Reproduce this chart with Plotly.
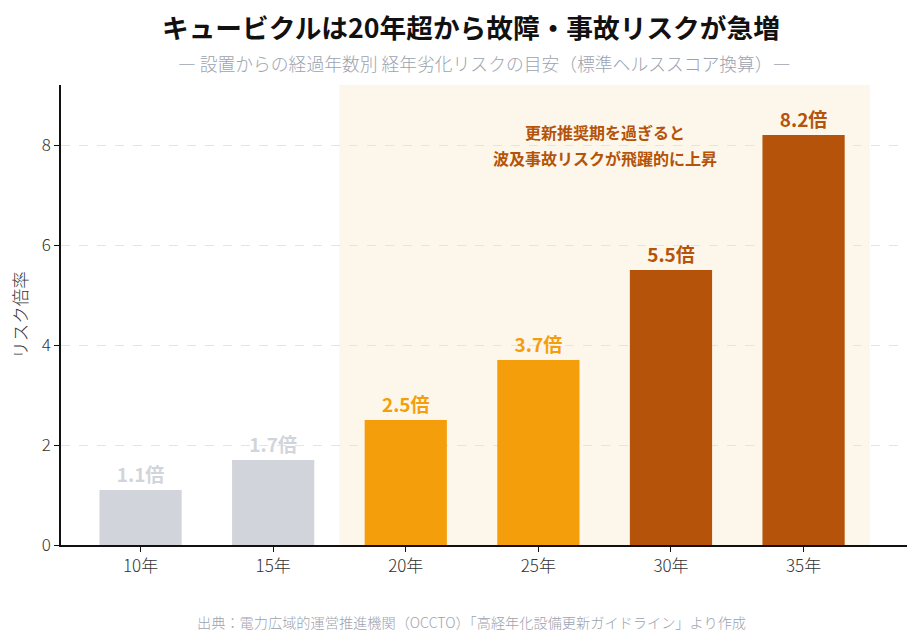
import plotly.graph_objects as go

categories = ["10年", "15年", "20年", "25年", "30年", "35年"]
values = [1.1, 1.7, 2.5, 3.7, 5.5, 8.2]
labels = ["1.1倍", "1.7倍", "2.5倍", "3.7倍", "5.5倍", "8.2倍"]
colors = ["#d1d5db", "#d1d5db", "#f59e0b", "#f59e0b", "#b45309", "#b45309"]
note_lines = ["更新推奨期を過ぎると", "波及事故リスクが飛躍的に上昇"]

FONT = "Noto Sans CJK JP"

fig = go.Figure()
fig.add_trace(go.Bar(
    x=list(range(len(categories))), y=values,
    marker=dict(color=colors, line=dict(width=0)),
    width=0.62,
    text=["<b>" + t + "</b>" for t in labels], textposition="outside",
    textfont=dict(color=colors, size=19, family=FONT),
    cliponaxis=False,
    hoverinfo="skip",
))

fig.add_shape(type="rect", xref="x", yref="paper", x0=1.5, x1=5.5, y0=0, y1=1,
              fillcolor="#fdf6ea", line=dict(width=0), layer="below")

for yv, line in zip([8.26, 7.74], note_lines):
    fig.add_annotation(x=3.5, y=yv, xref="x", yref="y",
                       text="<b>" + line + "</b>",
                       showarrow=False, font=dict(color="#b45309", size=16, family=FONT),
                       align="center")

fig.add_annotation(x=0.485, y=1, xref="paper", yref="paper", yshift=80,
                   text="<b>キュービクルは20年超から故障・事故リスクが急増</b>",
                   showarrow=False, font=dict(color="#111111", size=26.7, family=FONT))
fig.add_annotation(x=0.5, y=1, xref="paper", yref="paper", yshift=37,
                   text="― 設置からの経過年数別 経年劣化リスクの目安（標準ヘルススコア換算）―",
                   showarrow=False, font=dict(color="#9ca3af", size=17.8, family=FONT, weight=300))
fig.add_annotation(x=0.485, y=0, xref="paper", yref="paper", yshift=-89,
                   text="出典：電力広域的運営推進機関（OCCTO）「高経年化設備更新ガイドライン」より作成",
                   showarrow=False, font=dict(color="#9ca3af", size=14.2, family=FONT, weight=300))

fig.update_layout(
    width=920, height=643,
    margin=dict(l=61, r=13, t=85, b=98),
    paper_bgcolor="white", plot_bgcolor="white",
    font=dict(family=FONT, color="#333333", size=17),
    showlegend=False,
)
fig.update_xaxes(
    tickmode="array", tickvals=list(range(len(categories))), ticktext=categories,
    range=[-0.6, 5.78], showline=True, linecolor="#111111", linewidth=1.5,
    ticks="outside", ticklen=5, tickcolor="#111111", showgrid=False,
    tickfont=dict(size=17, color="#333333", weight=300),
)
fig.update_yaxes(
    range=[0, 9.2], tickvals=[0, 2, 4, 6, 8], showline=True, linecolor="#111111",
    linewidth=1.5, ticks="outside", ticklen=5, tickcolor="#111111",
    showgrid=True, gridcolor="#e2e4e8", griddash="dash", gridwidth=1,
    zeroline=False, tickfont=dict(size=17, color="#333333", weight=300),
    title=dict(text="リスク倍率", font=dict(size=17.5, color="#333333", weight=300), standoff=10),
)

fig.write_html("out.html")
